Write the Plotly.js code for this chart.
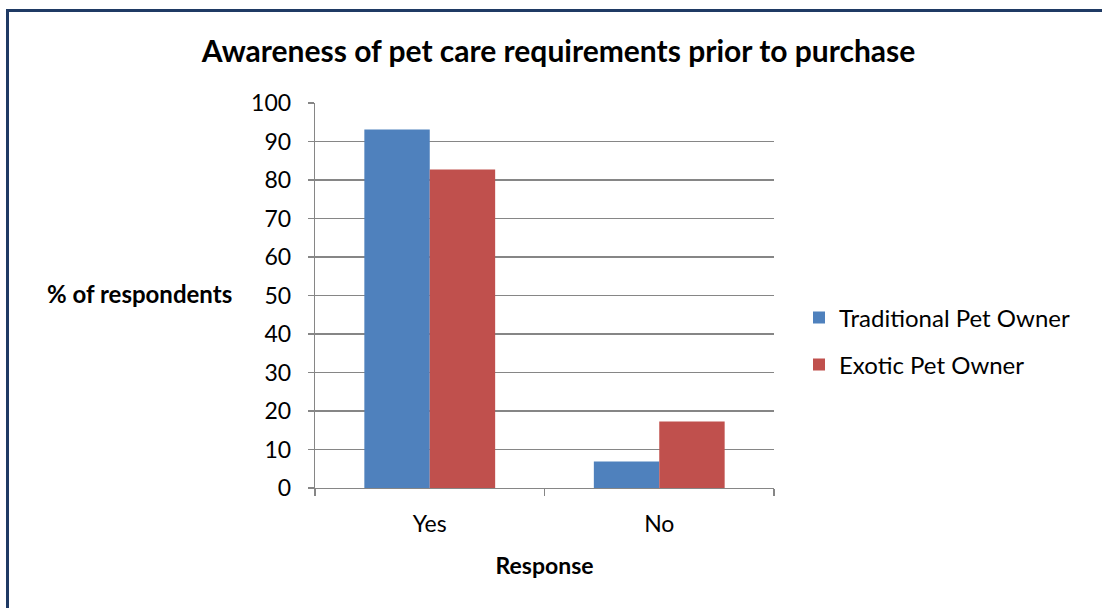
<!DOCTYPE html>
<html>
<head>
<meta charset="utf-8">
<script src="https://cdn.plot.ly/plotly-3.0.1.min.js"></script>
<style>
  html, body { margin: 0; padding: 0; background: #fff; }
  #chart { position: absolute; left: 0; top: 0; width: 1102px; height: 608px; }
  #frame { position: absolute; left: 6px; top: 9px; width: 1096px; height: 599px;
           border-top: 3px solid #1F3A64; border-left: 3px solid #1F3A64; box-sizing: border-box; pointer-events: none; }
</style>
</head>
<body>
<div id="chart"></div>
<div id="frame"></div>
<script>
const categories = ["Yes", "No"];
const traditionalValues = [93.1, 6.9];
const exoticValues = [82.7, 17.3];
const seriesNames = ["Traditional Pet Owner", "Exotic Pet Owner"];
const yTicks = [0, 10, 20, 30, 40, 50, 60, 70, 80, 90, 100];

const FONT = "Lato, 'Open Sans', 'Liberation Sans', sans-serif";

const traces = [
  { type: "bar", x: categories, y: traditionalValues, name: seriesNames[0],
    marker: { color: "#4F81BD" }, legend: "legend", hoverinfo: "skip" },
  { type: "bar", x: categories, y: exoticValues, name: seriesNames[1],
    marker: { color: "#C0504D" }, legend: "legend2", hoverinfo: "skip" }
];

const layout = {
  width: 1102, height: 608,
  margin: { l: 315, r: 328, t: 103, b: 120, pad: 0 },
  paper_bgcolor: "#ffffff", plot_bgcolor: "#ffffff",
  font: { family: FONT, color: "#000000", size: 23 },
  barmode: "group", bargap: 0.43, bargroupgap: 0,
  title: { text: "<b>Awareness of pet care requirements prior to purchase</b>",
           font: { family: FONT, size: 30, color: "#000" },
           x: 0.5305, xref: "paper", xanchor: "center", y: 0.915, yref: "container", yanchor: "middle" },
  xaxis: {
    type: "category", showgrid: false, showline: true, linecolor: "#868686", linewidth: 1.3,
    ticks: "outside", tickson: "boundaries", ticklen: 7, tickcolor: "#868686", tickwidth: 1.3,
    tickfont: { family: FONT, size: 23 }, ticklabelstandoff: 15,
    title: { text: "<b>Response</b>", font: { family: FONT, size: 23 }, standoff: 22 }
  },
  yaxis: {
    range: [0, 100], tickvals: yTicks, ticktext: yTicks.map(String),
    showgrid: true, gridcolor: "#868686", gridwidth: 1.3,
    showline: true, linecolor: "#868686", linewidth: 1.3, zeroline: false,
    ticks: "outside", ticklen: 6, tickcolor: "#868686", tickwidth: 1.3,
    tickfont: { family: FONT, size: 23 }, ticklabelstandoff: 12
  },
  showlegend: true,
  legend: { font: { family: FONT, size: 24 }, xanchor: "left", yanchor: "middle", bgcolor: "rgba(0,0,0,0)" },
  legend2: { font: { family: FONT, size: 24 }, xanchor: "left", yanchor: "middle", bgcolor: "rgba(0,0,0,0)" },
  annotations: [
    { text: "<b>% of respondents</b>", xref: "paper", yref: "paper", x: -0.383, y: 0.505,
      xanchor: "center", yanchor: "middle", showarrow: false, font: { family: FONT, size: 24 } }
  ]
};
// legend positions in paper coords (plot area x: 315..774, y: 103..488)
const pw = 1102 - 315 - 328, ph = 608 - 103 - 120;
layout.legend.x = (799 - 315) / pw; layout.legend.xref = "paper";
layout.legend.y = (488 - 318) / ph;
layout.legend2.x = (799 - 315) / pw;
layout.legend2.y = (488 - 365) / ph;

Plotly.newPlot("chart", traces, layout, { displayModeBar: false, staticPlot: true });
</script>
</body>
</html>
